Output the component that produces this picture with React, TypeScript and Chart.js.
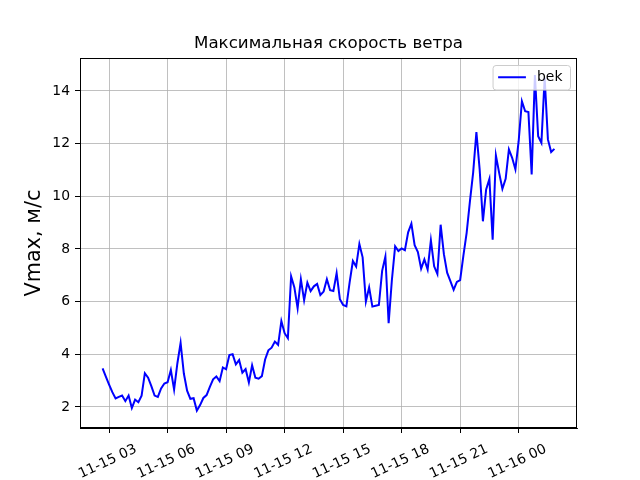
import React, { useEffect, useRef } from "react";
import { Chart, registerables } from "chart.js";

Chart.register(...registerables);

// Max wind speed, 10-minute samples from 11-15 02:40 to 11-16 01:50
const SERIES_LABEL = "bek";
const TITLE = "Максимальная скорость ветра";
const Y_LABEL = "Vmax, м/с";
const START_MINUTE = 160; // 02:40 on 11-15, minutes since 11-15 00:00
const STEP_MINUTES = 10;

const VALUES = [
  3.46, 3.15, 2.85, 2.56, 2.32, 2.38, 2.43, 2.22, 2.43, 1.96,
  2.28, 2.18, 2.43, 3.28, 3.11, 2.79, 2.43, 2.38, 2.70, 2.89,
  2.94, 3.40, 2.66, 3.65, 4.43, 3.27, 2.62, 2.31, 2.33, 1.86,
  2.07, 2.34, 2.45, 2.76, 3.05, 3.16, 2.98, 3.50, 3.43, 3.97,
  4.00, 3.62, 3.78, 3.30, 3.44, 2.93, 3.58, 3.11, 3.07, 3.17,
  3.80, 4.15, 4.25, 4.48, 4.36, 5.26, 4.80, 4.61, 6.96, 6.54,
  5.75, 6.85, 6.05, 6.72, 6.40, 6.58, 6.67, 6.25, 6.38, 6.85,
  6.43, 6.40, 7.08, 6.09, 5.87, 5.82, 6.73, 7.54, 7.33, 8.19,
  7.68, 6.00, 6.54, 5.81, 5.84, 5.87, 7.17, 7.71, 5.18, 6.82,
  8.10, 7.92, 8.02, 7.95, 8.63, 8.96, 8.14, 7.88, 7.25, 7.60,
  7.22, 8.33, 7.34, 7.05, 8.92, 7.80, 7.10, 6.78, 6.45, 6.75,
  6.82, 7.75, 8.61, 9.80, 10.90, 12.44, 11.02, 9.05, 10.26, 10.66,
  8.35, 11.55, 10.89, 10.28, 10.66, 11.78, 11.46, 11.02, 12.09, 13.61,
  13.23, 13.20, 10.83, 14.60, 12.28, 12.03, 14.50, 12.16, 11.68, 11.80,
];

const X_TICKS = [180, 360, 540, 720, 900, 1080, 1260, 1440];
const X_TICK_LABELS = [
  "11-15 03", "11-15 06", "11-15 09", "11-15 12",
  "11-15 15", "11-15 18", "11-15 21", "11-16 00",
];
const Y_TICKS = [2, 4, 6, 8, 10, 12, 14];

const FONT = "DejaVu Sans";

const framePlugin = {
  id: "frameAndLegend",
  afterDatasetsDraw(chart: any) {
    const { ctx, chartArea } = chart;
    const { left, right, top, bottom } = chartArea;
    ctx.save();
    // full frame (spines)
    ctx.strokeStyle = "#000";
    ctx.lineWidth = 1;
    ctx.strokeRect(left + 0.5, top + 0.5, right - left - 1, bottom - top - 1);

    // legend box, matplotlib style, upper right
    const ds = chart.data.datasets[0];
    const fs = 13.9;
    ctx.font = `${fs}px "${FONT}"`;
    const tw = ctx.measureText(ds.label).width;
    const pad = 0.4 * fs;
    const handle = 2.0 * fs;
    const gap = 0.8 * fs;
    const bw = pad * 2 + handle + gap + tw + 2;
    const bh = 24.5;
    const bx = right - 7 - bw;
    const by = top + 7;
    ctx.beginPath();
    ctx.roundRect(bx + 0.5, by + 0.5, bw, bh, 3);
    ctx.fillStyle = "rgba(255,255,255,0.8)";
    ctx.fill();
    ctx.strokeStyle = "#cccccc";
    ctx.lineWidth = 1;
    ctx.stroke();
    const cy = by + bh / 2;
    ctx.beginPath();
    ctx.moveTo(bx + pad, cy);
    ctx.lineTo(bx + pad + handle, cy);
    ctx.strokeStyle = ds.borderColor;
    ctx.lineWidth = 2;
    ctx.stroke();
    ctx.fillStyle = "#000";
    ctx.textAlign = "left";
    ctx.textBaseline = "middle";
    ctx.fillText(ds.label, bx + pad + handle + gap, cy);
    ctx.restore();
  },
};

export default function App() {
  const ref = useRef<HTMLCanvasElement | null>(null);

  useEffect(() => {
    if (!ref.current) return;
    Chart.defaults.font.family = FONT;
    const points = VALUES.map((v, i) => ({ x: START_MINUTE + i * STEP_MINUTES, y: v }));
    const chart = new Chart(ref.current, {
      type: "line",
      data: {
        datasets: [
          {
            label: SERIES_LABEL,
            data: points,
            borderColor: "#0000ff",
            borderWidth: 2,
            pointRadius: 0,
            fill: false,
            tension: 0,
          },
        ],
      },
      options: {
        responsive: false,
        animation: false,
        devicePixelRatio: 1,
        layout: { padding: { left: 0, right: 63, top: 0, bottom: 0 } },
        plugins: {
          legend: { display: false },
          tooltip: { enabled: false },
          title: {
            display: true,
            text: TITLE,
            color: "#000",
            fullSize: false,
            font: { family: FONT, size: 16.67, weight: "normal", lineHeight: 1.2 },
            padding: { top: 34, bottom: 4 },
          },
        },
        scales: {
          x: {
            type: "linear",
            min: 90.5,
            max: 1619.5,
            afterBuildTicks: (s: any) => {
              s.ticks = X_TICKS.map((v) => ({ value: v }));
            },
            afterFit: (s: any) => {
              s.height = 52;
            },
            ticks: {
              autoSkip: false,
              minRotation: 25,
              maxRotation: 25,
              labelOffset: 27,
              padding: 8,
              color: "#000",
              font: { family: FONT, size: 13.9 },
              callback: (v: any) => X_TICK_LABELS[X_TICKS.indexOf(Number(v))] ?? "",
            },
            grid: {
              color: "#b0b0b0",
              lineWidth: 0.8,
              tickColor: "#000",
              tickLength: 5,
              tickWidth: 1,
            },
            border: { color: "#000", width: 1 },
          },
          y: {
            min: 1.2,
            max: 15.25,
            afterBuildTicks: (s: any) => {
              s.ticks = Y_TICKS.map((v) => ({ value: v }));
            },
            afterFit: (s: any) => {
              s.width = 80;
            },
            ticks: {
              padding: 5,
              color: "#000",
              font: { family: FONT, size: 13.9 },
              callback: (v: any) => String(v),
            },
            grid: {
              color: "#b0b0b0",
              lineWidth: 0.8,
              tickColor: "#000",
              tickLength: 5,
              tickWidth: 1,
            },
            border: { color: "#000", width: 1 },
            title: {
              display: true,
              text: Y_LABEL,
              color: "#000",
              font: { family: FONT, size: 20.8, lineHeight: 1.2 },
              padding: { top: 22.5, bottom: 0 },
            },
          },
        },
      },
      plugins: [framePlugin],
    });
    return () => chart.destroy();
  }, []);

  return (
    <div style={{ position: "absolute", left: 0, top: 0, width: 640, height: 480, background: "#fff" }}>
      <canvas ref={ref} width={640} height={480} />
    </div>
  );
}
